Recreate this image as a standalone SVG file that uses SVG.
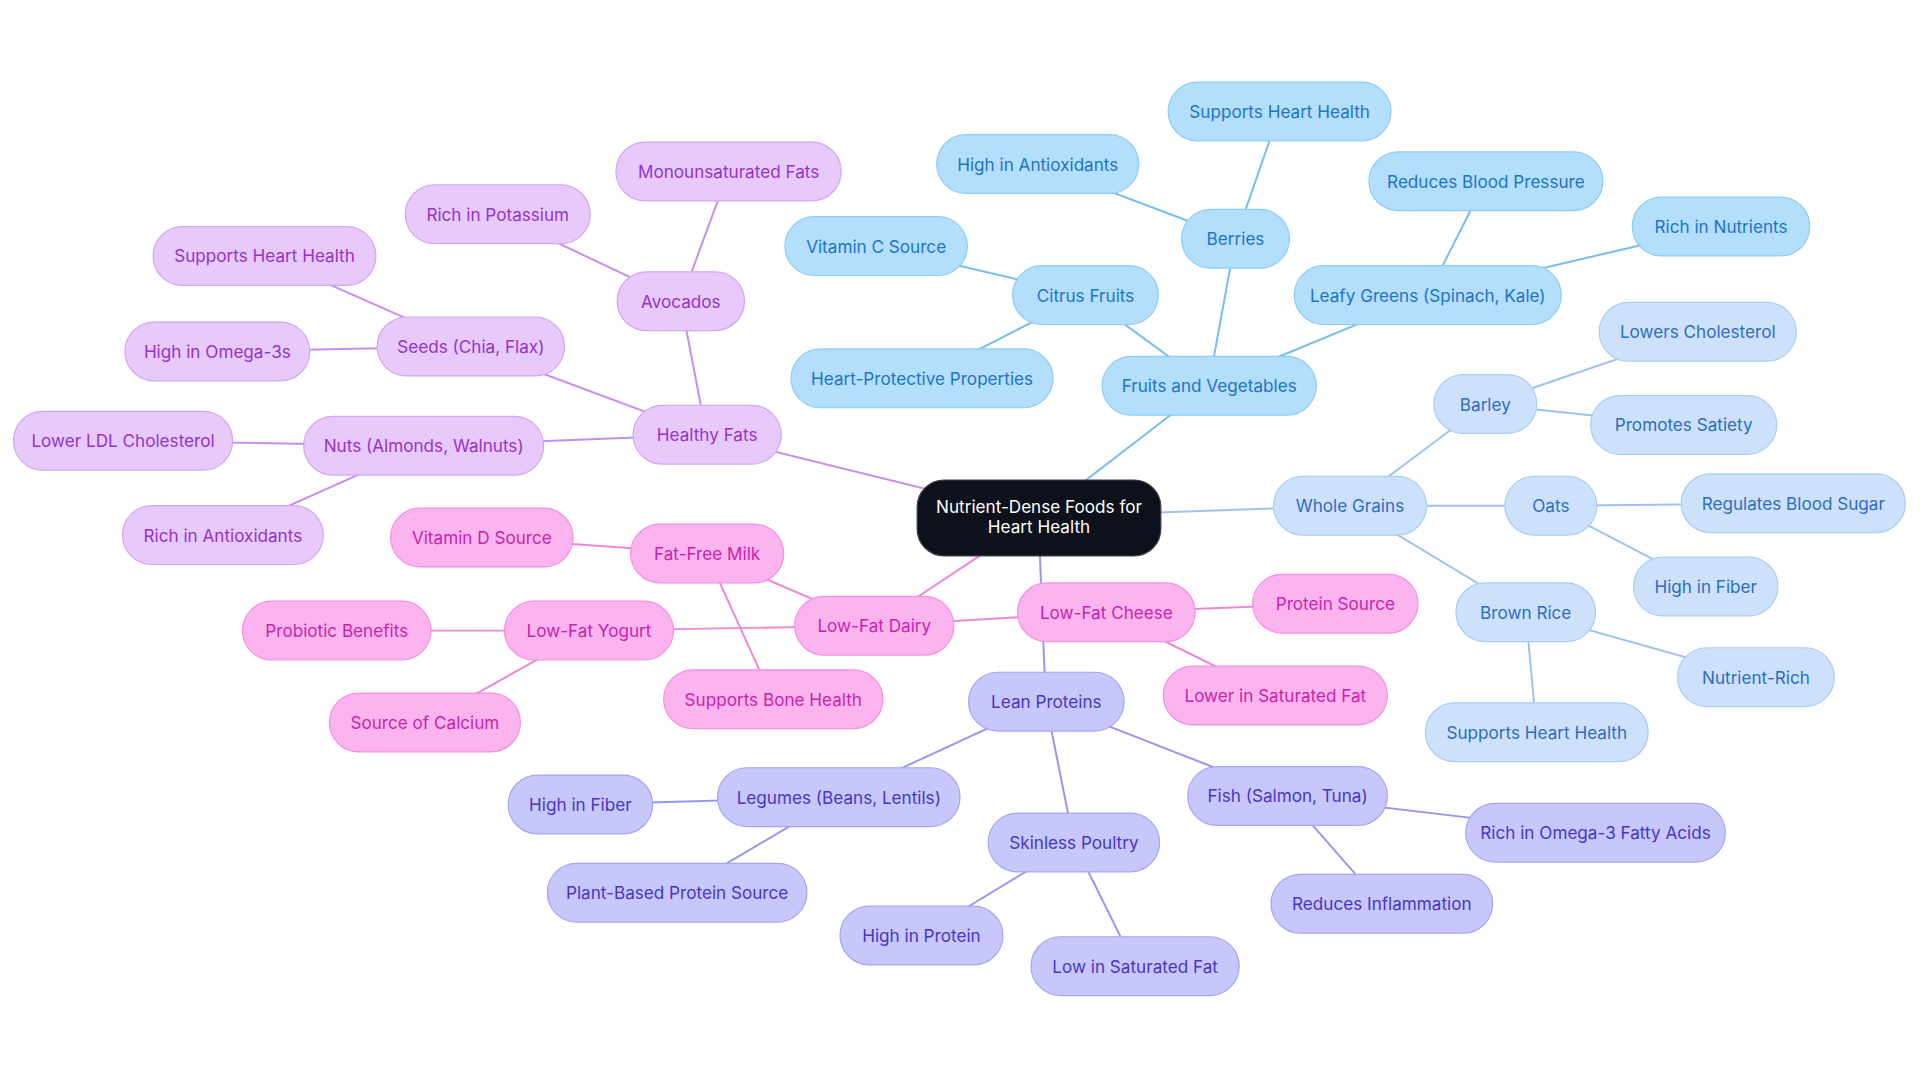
<svg xmlns="http://www.w3.org/2000/svg" width="1920" height="1083" viewBox="0 0 1920 1083">
<style>
text{font-family:Inter,"Noto Sans",sans-serif;font-size:14px;text-anchor:middle;dominant-baseline:central}
.b rect{fill:#b3defc;stroke:#8ccdf8}.b text{fill:#1d74c9}
.g rect{fill:#cde2fa;stroke:#a9cdf5}.g text{fill:#2c6cc6}
.p rect{fill:#e7c9fb;stroke:#d3a6f5}.p text{fill:#9433cc}
.k rect{fill:#fcb4ef;stroke:#f48fe2}.k text{fill:#cc1faa}
.l rect{fill:#c7c7fb;stroke:#a5a5f5}.l text{fill:#4636c8}
.c rect{fill:#0c111b;stroke:#3a3f48}.c text{fill:#ffffff}
#edges line{stroke-width:1.6}
.eb{stroke:#74bdf0}.eg{stroke:#9cc3f0}.ep{stroke:#c88cf0}.ek{stroke:#ee86d8}.el{stroke:#9696f0}
</style>
<rect width="1920" height="1083" fill="#fff"/>
<g transform="scale(1.2245)">
<g id="edges">
<line class="eb" x1="848" y1="422" x2="987" y2="315"/>
<line class="eb" x1="987" y1="315" x2="1009" y2="195"/>
<line class="eb" x1="1009" y1="195" x2="1045" y2="91"/>
<line class="eb" x1="1009" y1="195" x2="847" y2="134"/>
<line class="eb" x1="987" y1="315" x2="886" y2="241"/>
<line class="eb" x1="886" y1="241" x2="715" y2="201"/>
<line class="eb" x1="886" y1="241" x2="753" y2="309"/>
<line class="eb" x1="987" y1="315" x2="1166" y2="241"/>
<line class="eb" x1="1166" y1="241" x2="1213" y2="148"/>
<line class="eb" x1="1166" y1="241" x2="1405" y2="185"/>
<line class="eg" x1="848" y1="422" x2="1102" y2="413"/>
<line class="eg" x1="1102" y1="413" x2="1213" y2="330"/>
<line class="eg" x1="1213" y1="330" x2="1386" y2="271"/>
<line class="eg" x1="1213" y1="330" x2="1375" y2="347"/>
<line class="eg" x1="1102" y1="413" x2="1266" y2="413"/>
<line class="eg" x1="1266" y1="413" x2="1464" y2="411"/>
<line class="eg" x1="1266" y1="413" x2="1393" y2="479"/>
<line class="eg" x1="1102" y1="413" x2="1246" y2="500"/>
<line class="eg" x1="1246" y1="500" x2="1434" y2="553"/>
<line class="eg" x1="1246" y1="500" x2="1255" y2="598"/>
<line class="ep" x1="848" y1="422" x2="577" y2="355"/>
<line class="ep" x1="577" y1="355" x2="556" y2="246"/>
<line class="ep" x1="556" y1="246" x2="595" y2="140"/>
<line class="ep" x1="556" y1="246" x2="406" y2="175"/>
<line class="ep" x1="577" y1="355" x2="384" y2="283"/>
<line class="ep" x1="384" y1="283" x2="216" y2="209"/>
<line class="ep" x1="384" y1="283" x2="177" y2="287"/>
<line class="ep" x1="577" y1="355" x2="346" y2="364"/>
<line class="ep" x1="346" y1="364" x2="100" y2="360"/>
<line class="ep" x1="346" y1="364" x2="182" y2="437"/>
<line class="ek" x1="848" y1="422" x2="714" y2="511"/>
<line class="ek" x1="714" y1="511" x2="577" y2="452"/>
<line class="ek" x1="577" y1="452" x2="393" y2="439"/>
<line class="ek" x1="577" y1="452" x2="631" y2="571"/>
<line class="ek" x1="714" y1="511" x2="481" y2="515"/>
<line class="ek" x1="481" y1="515" x2="275" y2="515"/>
<line class="ek" x1="481" y1="515" x2="347" y2="590"/>
<line class="ek" x1="714" y1="511" x2="903" y2="500"/>
<line class="ek" x1="903" y1="500" x2="1090" y2="493"/>
<line class="ek" x1="903" y1="500" x2="1041" y2="568"/>
<line class="el" x1="848" y1="422" x2="854" y2="573"/>
<line class="el" x1="854" y1="573" x2="685" y2="651"/>
<line class="el" x1="685" y1="651" x2="474" y2="657"/>
<line class="el" x1="685" y1="651" x2="553" y2="729"/>
<line class="el" x1="854" y1="573" x2="877" y2="688"/>
<line class="el" x1="877" y1="688" x2="752" y2="764"/>
<line class="el" x1="877" y1="688" x2="927" y2="789"/>
<line class="el" x1="854" y1="573" x2="1051" y2="650"/>
<line class="el" x1="1051" y1="650" x2="1303" y2="680"/>
<line class="el" x1="1051" y1="650" x2="1128" y2="738"/>
</g>
<g id="center" class="c"><rect x="749" y="392" width="199" height="62" rx="22"/><text x="848.5" y="414">Nutrient-Dense Foods for</text><text x="848.5" y="430">Heart Health</text></g>
<g id="n1" class="b"><rect x="900" y="291" width="175" height="48" rx="24"/><text x="987.5" y="315">Fruits and Vegetables</text></g>
<g id="n2" class="b"><rect x="965" y="171" width="88" height="48" rx="24"/><text x="1009" y="195">Berries</text></g>
<g id="n3" class="b"><rect x="954" y="67" width="182" height="48" rx="24"/><text x="1045" y="91">Supports Heart Health</text></g>
<g id="n4" class="b"><rect x="765" y="110" width="165" height="48" rx="24"/><text x="847.5" y="134">High in Antioxidants</text></g>
<g id="n5" class="b"><rect x="827" y="217" width="119" height="48" rx="24"/><text x="886.5" y="241">Citrus Fruits</text></g>
<g id="n6" class="b"><rect x="641" y="177" width="149" height="48" rx="24"/><text x="715.5" y="201">Vitamin C Source</text></g>
<g id="n7" class="b"><rect x="646" y="285" width="214" height="48" rx="24"/><text x="753" y="309">Heart-Protective Properties</text></g>
<g id="n8" class="b"><rect x="1057" y="217" width="218" height="48" rx="24"/><text x="1166" y="241">Leafy Greens (Spinach, Kale)</text></g>
<g id="n9" class="b"><rect x="1118" y="124" width="191" height="48" rx="24"/><text x="1213.5" y="148">Reduces Blood Pressure</text></g>
<g id="n10" class="b"><rect x="1333" y="161" width="145" height="48" rx="24"/><text x="1405.5" y="185">Rich in Nutrients</text></g>
<g id="n11" class="g"><rect x="1040" y="389" width="125" height="48" rx="24"/><text x="1102.5" y="413">Whole Grains</text></g>
<g id="n12" class="g"><rect x="1171" y="306" width="84" height="48" rx="24"/><text x="1213" y="330">Barley</text></g>
<g id="n13" class="g"><rect x="1306" y="247" width="161" height="48" rx="24"/><text x="1386.5" y="271">Lowers Cholesterol</text></g>
<g id="n14" class="g"><rect x="1299" y="323" width="152" height="48" rx="24"/><text x="1375" y="347">Promotes Satiety</text></g>
<g id="n15" class="g"><rect x="1229" y="389" width="75" height="48" rx="24"/><text x="1266.5" y="413">Oats</text></g>
<g id="n16" class="g"><rect x="1373" y="387" width="183" height="48" rx="24"/><text x="1464.5" y="411">Regulates Blood Sugar</text></g>
<g id="n17" class="g"><rect x="1334" y="455" width="118" height="48" rx="24"/><text x="1393" y="479">High in Fiber</text></g>
<g id="n18" class="g"><rect x="1189" y="476" width="114" height="48" rx="24"/><text x="1246" y="500">Brown Rice</text></g>
<g id="n19" class="g"><rect x="1370" y="529" width="128" height="48" rx="24"/><text x="1434" y="553">Nutrient-Rich</text></g>
<g id="n20" class="g"><rect x="1164" y="574" width="182" height="48" rx="24"/><text x="1255" y="598">Supports Heart Health</text></g>
<g id="n21" class="p"><rect x="517" y="331" width="121" height="48" rx="24"/><text x="577.5" y="355">Healthy Fats</text></g>
<g id="n22" class="p"><rect x="504" y="222" width="104" height="48" rx="24"/><text x="556" y="246">Avocados</text></g>
<g id="n23" class="p"><rect x="503" y="116" width="184" height="48" rx="24"/><text x="595" y="140">Monounsaturated Fats</text></g>
<g id="n24" class="p"><rect x="331" y="151" width="151" height="48" rx="24"/><text x="406.5" y="175">Rich in Potassium</text></g>
<g id="n25" class="p"><rect x="308" y="259" width="153" height="48" rx="24"/><text x="384.5" y="283">Seeds (Chia, Flax)</text></g>
<g id="n26" class="p"><rect x="125" y="185" width="182" height="48" rx="24"/><text x="216" y="209">Supports Heart Health</text></g>
<g id="n27" class="p"><rect x="102" y="263" width="151" height="48" rx="24"/><text x="177.5" y="287">High in Omega-3s</text></g>
<g id="n28" class="p"><rect x="248" y="340" width="196" height="48" rx="24"/><text x="346" y="364">Nuts (Almonds, Walnuts)</text></g>
<g id="n29" class="p"><rect x="11" y="336" width="179" height="48" rx="24"/><text x="100.5" y="360">Lower LDL Cholesterol</text></g>
<g id="n30" class="p"><rect x="100" y="413" width="164" height="48" rx="24"/><text x="182" y="437">Rich in Antioxidants</text></g>
<g id="n31" class="k"><rect x="649" y="487" width="130" height="48" rx="24"/><text x="714" y="511">Low-Fat Dairy</text></g>
<g id="n32" class="k"><rect x="515" y="428" width="125" height="48" rx="24"/><text x="577.5" y="452">Fat-Free Milk</text></g>
<g id="n33" class="k"><rect x="319" y="415" width="149" height="48" rx="24"/><text x="393.5" y="439">Vitamin D Source</text></g>
<g id="n34" class="k"><rect x="542" y="547" width="179" height="48" rx="24"/><text x="631.5" y="571">Supports Bone Health</text></g>
<g id="n35" class="k"><rect x="412" y="491" width="138" height="48" rx="24"/><text x="481" y="515">Low-Fat Yogurt</text></g>
<g id="n36" class="k"><rect x="198" y="491" width="154" height="48" rx="24"/><text x="275" y="515">Probiotic Benefits</text></g>
<g id="n37" class="k"><rect x="269" y="566" width="156" height="48" rx="24"/><text x="347" y="590">Source of Calcium</text></g>
<g id="n38" class="k"><rect x="831" y="476" width="145" height="48" rx="24"/><text x="903.5" y="500">Low-Fat Cheese</text></g>
<g id="n39" class="k"><rect x="1023" y="469" width="135" height="48" rx="24"/><text x="1090.5" y="493">Protein Source</text></g>
<g id="n40" class="k"><rect x="950" y="544" width="183" height="48" rx="24"/><text x="1041.5" y="568">Lower in Saturated Fat</text></g>
<g id="n41" class="l"><rect x="791" y="549" width="127" height="48" rx="24"/><text x="854.5" y="573">Lean Proteins</text></g>
<g id="n42" class="l"><rect x="586" y="627" width="198" height="48" rx="24"/><text x="685" y="651">Legumes (Beans, Lentils)</text></g>
<g id="n43" class="l"><rect x="415" y="633" width="118" height="48" rx="24"/><text x="474" y="657">High in Fiber</text></g>
<g id="n44" class="l"><rect x="447" y="705" width="212" height="48" rx="24"/><text x="553" y="729">Plant-Based Protein Source</text></g>
<g id="n45" class="l"><rect x="807" y="664" width="140" height="48" rx="24"/><text x="877" y="688">Skinless Poultry</text></g>
<g id="n46" class="l"><rect x="686" y="740" width="133" height="48" rx="24"/><text x="752.5" y="764">High in Protein</text></g>
<g id="n47" class="l"><rect x="842" y="765" width="170" height="48" rx="24"/><text x="927" y="789">Low in Saturated Fat</text></g>
<g id="n48" class="l"><rect x="970" y="626" width="163" height="48" rx="24"/><text x="1051.5" y="650">Fish (Salmon, Tuna)</text></g>
<g id="n49" class="l"><rect x="1197" y="656" width="212" height="48" rx="24"/><text x="1303" y="680">Rich in Omega-3 Fatty Acids</text></g>
<g id="n50" class="l"><rect x="1038" y="714" width="181" height="48" rx="24"/><text x="1128.5" y="738">Reduces Inflammation</text></g>
</g>
</svg>
